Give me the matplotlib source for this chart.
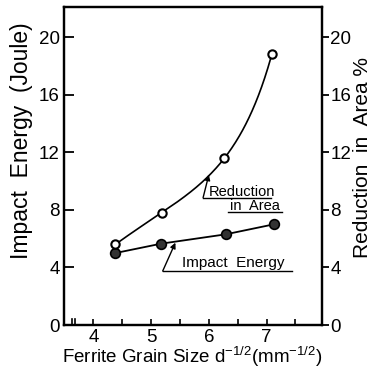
import numpy as np
import matplotlib
matplotlib.use("Agg")
import matplotlib.pyplot as plt

# Data
grain_size_ra = [4.38, 5.18, 6.27, 7.09]
reduction_area = [5.6, 7.8, 11.6, 18.8]
grain_size_ie = [4.38, 5.17, 6.29, 7.13]
impact_energy = [5.0, 5.65, 6.3, 7.0]
x_ticks = [4, 5, 6, 7]
y_ticks = [0, 4, 8, 12, 16, 20]

plt.rcParams['font.family'] = ['Liberation Sans', 'DejaVu Sans']
plt.rcParams['mathtext.fontset'] = 'custom'
plt.rcParams['mathtext.rm'] = 'Liberation Sans'
plt.rcParams['mathtext.it'] = 'Liberation Sans'

fig = plt.figure(figsize=(3.71, 3.70), dpi=100)
W, H = 371, 370
ax = fig.add_axes([64 / W, 1 - 325 / H, (322 - 64) / W, (325 - 7) / H])
ax2 = ax.twinx()

xlim = (3.49, 7.96)
ylim = (0, 22.1)
for a in (ax, ax2):
    a.set_xlim(*xlim)
    a.set_ylim(*ylim)

# Smooth curve through reduction-in-area points (cubic in log space through the 4 points)
c = np.polyfit(grain_size_ra, np.log(reduction_area), 3)
xs = np.linspace(grain_size_ra[0], grain_size_ra[-1], 200)
ax2.plot(xs, np.exp(np.polyval(c, xs)), color='black', lw=1.2, zorder=2)
ax2.plot(grain_size_ra, reduction_area, 'o', ms=6, mfc='white', mec='black', mew=1.5, zorder=3)

ax.plot(grain_size_ie, impact_energy, color='black', lw=1.3, zorder=2)
ax.plot(grain_size_ie, impact_energy, 'o', ms=7, mfc='#333333', mec='black', mew=1.2, zorder=3)

# Ticks
ax.set_xticks(x_ticks)
ax.set_xticks(np.arange(4.5, 7.6, 1.0), minor=True)
ax.set_yticks(y_ticks)
ax2.set_yticks(y_ticks)
ax.tick_params(axis='x', which='both', direction='in', length=4, width=1.2, labelsize=13.5, pad=3, top=False)
ax.tick_params(axis='y', direction='in', length=7, width=1.3, labelsize=13.5, pad=3)
ax2.tick_params(axis='y', direction='out', length=5, width=1.3, labelsize=13.5, pad=1)
for a in (ax, ax2):
    for s in a.spines.values():
        s.set_linewidth(1.6)

# Axis break marks on x axis
for xb in (3.62, 3.68):
    ax.plot([xb, xb], [0, 0.4], color='black', lw=1.2, clip_on=False)

ax.set_ylabel('')
ax2.set_ylabel('')
fig.text(22 / W, 1 - 141 / H, 'Impact  Energy  (Joule)', rotation=90, fontsize=16.5,
         ha='center', va='center')
fig.text(362 / W, 1 - 158 / H, 'Reduction  in  Area %', rotation=90, fontsize=15,
         ha='center', va='center')
fig.text(192 / W, 1 - 357 / H, r'Ferrite Grain Size d$^{-1/2}$(mm$^{-1/2}$)', fontsize=13.5,
         ha='center', va='center')

# Annotations
ax.text(6.00, 8.99, 'Reduction', fontsize=10.5, ha='left', va='baseline')
ax.text(6.37, 7.99, 'in  Area', fontsize=10.5, ha='left', va='baseline')
ax.plot([5.90, 7.08], [8.85, 8.85], color='black', lw=1.0)
ax.plot([6.33, 7.26], [7.83, 7.83], color='black', lw=1.0)
ax.annotate('', xy=(6.0, 10.45), xytext=(5.90, 8.85),
            arrowprops=dict(arrowstyle='-|>', color='black', lw=1.0, mutation_scale=8,
                            shrinkA=0, shrinkB=0))

ax.text(5.54, 4.03, 'Impact  Energy', fontsize=11, ha='left', va='baseline')
ax.plot([5.20, 7.44], [3.75, 3.75], color='black', lw=1.0)
ax.annotate('', xy=(5.42, 5.72), xytext=(5.20, 3.75),
            arrowprops=dict(arrowstyle='-|>', color='black', lw=1.0, mutation_scale=8,
                            shrinkA=0, shrinkB=0))

fig.savefig('out.png', dpi=100)
